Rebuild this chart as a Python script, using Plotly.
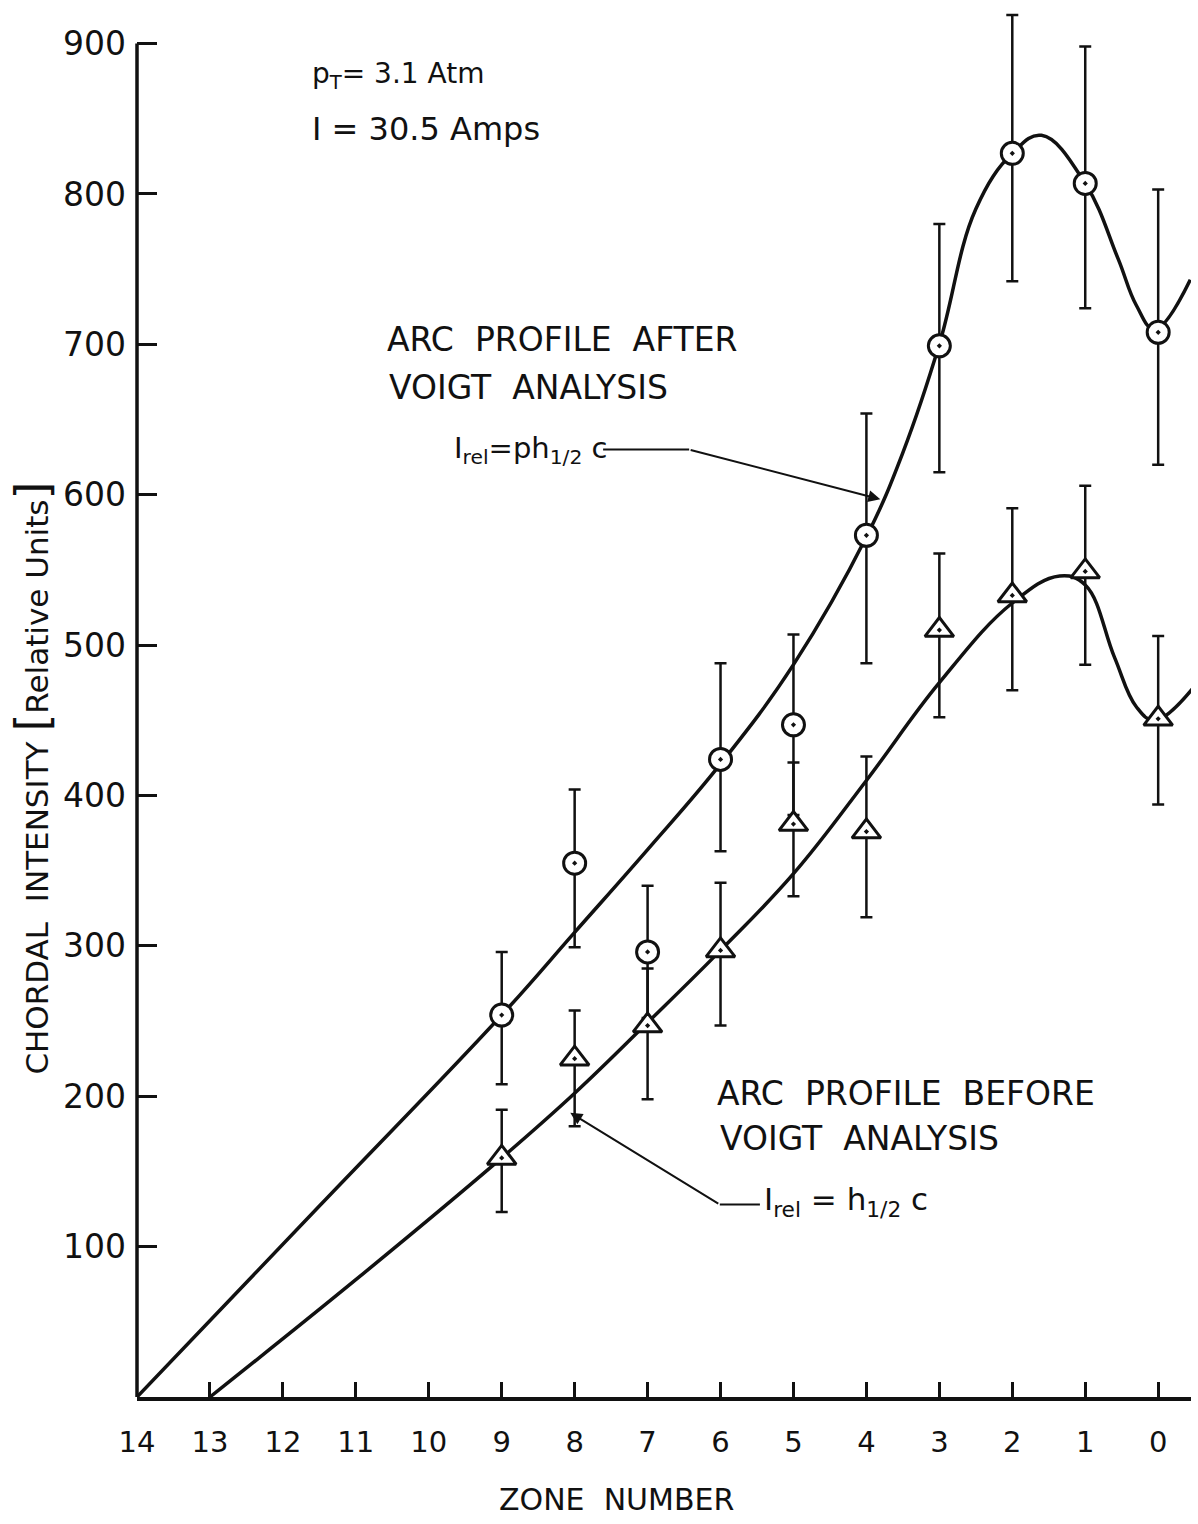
import plotly.graph_objects as go

# Measured zones and chordal intensities (relative units)
zones = [9, 8, 7, 6, 5, 4, 3, 2, 1, 0]

after_vals = [254, 355, 296, 424, 447, 573, 699, 827, 807, 708]
after_err_up = [42, 49, 44, 64, 60, 81, 81, 92, 91, 95]
after_err_dn = [46, 56, 44, 61, 60, 85, 84, 85, 83, 88]

before_vals = [159, 225, 247, 297, 381, 376, 510, 533, 549, 451]
before_err_up = [32, 32, 38, 45, 41, 50, 51, 58, 57, 55]
before_err_dn = [36, 45, 49, 50, 48, 57, 58, 63, 62, 57]

# Hand-fitted profile curves (knots of the smooth fit)
after_fit_x = [14, 11.5, 9, 8, 7, 6, 5, 4, 3.5, 3, 2.5, 2, 1.6, 1, 0.55, 0.3, 0.05, -0.44]
after_fit_y = [0, 127, 254, 309, 364, 421, 487, 572, 628, 700, 790, 827, 839, 807, 757, 726, 710, 743]

before_fit_x = [13, 11, 9, 8, 7, 6, 5, 4, 3, 2, 1.35, 1, 0.6, 0.3, 0.05, -0.47]
before_fit_y = [0, 78, 159, 202, 249, 297, 348, 410, 475, 528, 546, 540, 492, 459, 450, 471]

x_ticks = list(range(0, 15))
y_ticks = [100, 200, 300, 400, 500, 600, 700, 800, 900]

INK = "#111111"
FONT = "DejaVu Sans"

fig = go.Figure()

for fx, fy in ((after_fit_x, after_fit_y), (before_fit_x, before_fit_y)):
    fig.add_trace(go.Scatter(
        x=fx, y=fy, mode="lines",
        line=dict(color=INK, width=3.5, shape="spline", smoothing=1.15),
        hoverinfo="skip", showlegend=False))

fig.add_trace(go.Scatter(
    x=zones, y=after_vals, mode="markers",
    marker=dict(symbol="circle-dot", size=22, color="white",
                line=dict(color=INK, width=3)),
    error_y=dict(type="data", symmetric=False, array=after_err_up,
                 arrayminus=after_err_dn, color=INK, thickness=2.5, width=6),
    showlegend=False))
fig.add_trace(go.Scatter(
    x=zones, y=before_vals, mode="markers",
    marker=dict(symbol="triangle-up-dot", size=25, color="white",
                line=dict(color=INK, width=3)),
    error_y=dict(type="data", symmetric=False, array=before_err_up,
                 arrayminus=before_err_dn, color=INK, thickness=2.5, width=6),
    showlegend=False))

# y axis line ends at the 900 tick
fig.add_shape(type="line", xref="paper", yref="y", x0=0, x1=0, y0=0, y1=900,
              line=dict(color=INK, width=3.5))

def label(text, x, y, size=28, **kw):
    fig.add_annotation(text=text, x=x, y=y, xref="x", yref="y", showarrow=False,
                       xanchor="left", yanchor="middle",
                       font=dict(family=FONT, size=size, color=INK), **kw)

label("p<sub>T</sub>= 3.1 Atm", 11.63, 879, size=28)
label("I = 30.5 Amps", 11.63, 843, size=32)

label("ARC  PROFILE  AFTER", 10.6, 703, size=33)
label("VOIGT  ANALYSIS", 10.57, 671, size=33)
label("I<sub>rel</sub>=ph<sub>1/2</sub> c", 9.68, 630, size=29)

label("ARC  PROFILE  BEFORE", 6.07, 202, size=33)
label("VOIGT  ANALYSIS", 6.03, 172, size=33)
label("I<sub>rel</sub> = h<sub>1/2</sub> c", 5.43, 130, size=31)

# leader lines from the formula labels to the curves
fig.add_shape(type="line", xref="x", yref="y", x0=7.61, x1=6.43, y0=630, y1=630,
              line=dict(color=INK, width=2))
fig.add_annotation(x=3.81, y=597, ax=6.43, ay=630, xref="x", yref="y",
                   axref="x", ayref="y", text="", showarrow=True,
                   arrowhead=2, arrowsize=1.2, arrowwidth=2, arrowcolor=INK)
fig.add_shape(type="line", xref="x", yref="y", x0=6.01, x1=5.46, y0=128, y1=128,
              line=dict(color=INK, width=2))
fig.add_annotation(x=8.06, y=189, ax=6.01, ay=128, xref="x", yref="y",
                   axref="x", ayref="y", text="", showarrow=True,
                   arrowhead=2, arrowsize=1.2, arrowwidth=2, arrowcolor=INK)

# axis titles
fig.add_annotation(text="ZONE  NUMBER", xref="paper", yref="paper",
                   x=0.4545, y=-0.074, showarrow=False,
                   xanchor="center", yanchor="middle",
                   font=dict(family=FONT, size=30, color=INK))
fig.add_annotation(
    text="CHORDAL  INTENSITY <span style='font-size:46px'>[</span>Relative Units<span style='font-size:46px'>]</span>",
    xref="paper", yref="paper", x=-0.1, y=0.445, textangle=-90,
    showarrow=False, xanchor="center", yanchor="middle",
    font=dict(family=FONT, size=31, color=INK))

fig.update_xaxes(range=[14, -0.45], tickvals=x_ticks,
                 ticktext=[str(v) for v in x_ticks],
                 ticks="inside", ticklen=15, tickwidth=2.5, tickcolor=INK,
                 showline=True, linewidth=3.5, linecolor=INK,
                 showgrid=False, zeroline=False, ticklabelstandoff=16,
                 tickfont=dict(family=FONT, size=29, color=INK))
fig.update_yaxes(range=[0, 925], tickvals=y_ticks,
                 ticks="inside", ticklen=20, tickwidth=2.5, tickcolor=INK,
                 showline=False, showgrid=False, zeroline=False,
                 ticklabelstandoff=10,
                 tickfont=dict(family=FONT, size=33, color=INK))

fig.update_layout(width=1198, height=1524,
                  margin=dict(l=137, r=7, t=6, b=127),
                  paper_bgcolor="white", plot_bgcolor="white")

fig.write_html("out.html")
